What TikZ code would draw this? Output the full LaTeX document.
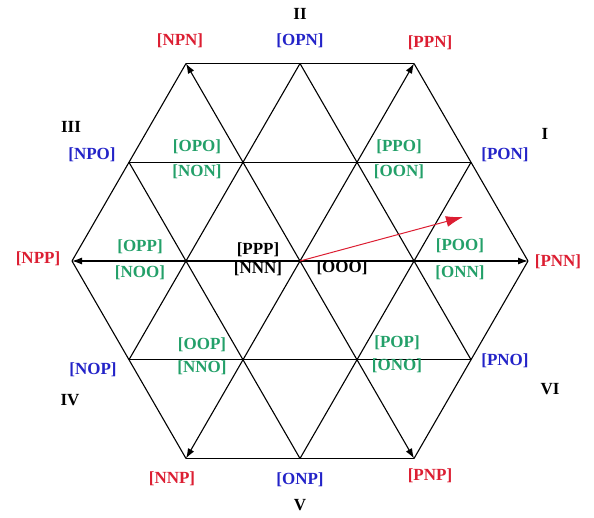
\documentclass[tikz,border=0pt]{standalone}
\usepackage{fontspec}
\setmainfont{Liberation Serif}
\usetikzlibrary{arrows.meta}
\definecolor{vred}{RGB}{220,30,50}
\definecolor{vblue}{RGB}{35,35,200}
\definecolor{vgreen}{RGB}{35,160,105}
\begin{document}
\begin{tikzpicture}[x=1pt,y=-1pt,
  gridline/.style={line width=1.1pt, black},
  vec/.style={gridline, -{Latex[length=10pt,width=7pt]}},
  redvec/.style={line width=1pt, vred, -{Latex[length=17pt,width=11pt]}},
  lab/.style={font=\fontsize{17}{19}\selectfont\bfseries, inner sep=0pt},
  rlab/.style={lab, text=vred},
  blab/.style={lab, text=vblue},
  glab/.style={lab, text=vgreen},
  klab/.style={lab, text=black}]
\useasboundingbox (0,0) rectangle (594,517);
% grid points
\coordinate (C) at (300,261);
\coordinate (A0) at (528,261);
\coordinate (A60) at (414,63.5);
\coordinate (A120) at (186,63.5);
\coordinate (A180) at (72,261);
\coordinate (A240) at (186,458.5);
\coordinate (A300) at (414,458.5);
\coordinate (M30) at (471,162.3);
\coordinate (M90) at (300,63.5);
\coordinate (M150) at (129,162.3);
\coordinate (M210) at (129,359.7);
\coordinate (M270) at (300,458.5);
\coordinate (M330) at (471,359.7);
\coordinate (R) at (463,217);
% grid lines
\draw[gridline] (A120) -- (A60);
\draw[gridline] (M150) -- (M30);
\draw[gridline] (M210) -- (M330);
\draw[gridline] (A240) -- (A300);
\draw[gridline] (A180) -- (A120);
\draw[gridline] (M210) -- (M90);
\draw[gridline] (M270) -- (M30);
\draw[gridline] (A300) -- (A0);
\draw[gridline] (A180) -- (A240);
\draw[gridline] (M150) -- (M270);
\draw[gridline] (M90) -- (M330);
\draw[gridline] (A60) -- (A0);
% vectors
\draw[vec] (C) -- (A0);
\draw[vec] (C) -- (A60);
\draw[vec] (C) -- (A120);
\draw[vec] (C) -- (A180);
\draw[vec] (C) -- (A240);
\draw[vec] (C) -- (A300);
\draw[redvec] (C) -- (R);
% sector labels
\node[klab] (sII) at (300,14) {II};
\node[klab] (sI) at (545,134) {I};
\node[klab] (sIII) at (71,127) {III};
\node[klab] (sIV) at (70,400) {IV};
\node[klab] (sV) at (300,505) {V};
\node[klab] (sVI) at (550,389) {VI};
% large vectors
\node[rlab] (lNPN) at (180,41) {[NPN]};
\node[rlab] (lPPN) at (430,43) {[PPN]};
\node[rlab] (lNPP) at (38,259) {[NPP]};
\node[rlab] (lPNN) at (558,262) {[PNN]};
\node[rlab] (lNNP) at (172,479) {[NNP]};
\node[rlab] (lPNP) at (430,476) {[PNP]};
% medium vectors
\node[blab] (lOPN) at (300,41) {[OPN]};
\node[blab] (lPON) at (505,155) {[PON]};
\node[blab] (lNPO) at (92,155) {[NPO]};
\node[blab] (lNOP) at (93,370) {[NOP]};
\node[blab] (lONP) at (300,480) {[ONP]};
\node[blab] (lPNO) at (505,361) {[PNO]};
% small vectors
\node[glab] (lOPO) at (197,147) {[OPO]};
\node[glab] (lNON) at (197,172) {[NON]};
\node[glab] (lPPO) at (399,147) {[PPO]};
\node[glab] (lOON) at (399,172) {[OON]};
\node[glab] (lOPP) at (140,247) {[OPP]};
\node[glab] (lNOO) at (140,273) {[NOO]};
\node[glab] (lPOO) at (460,246) {[POO]};
\node[glab] (lONN) at (460,273) {[ONN]};
\node[glab] (lOOP) at (202,345) {[OOP]};
\node[glab] (lNNO) at (202,368) {[NNO]};
\node[glab] (lPOP) at (397,343) {[POP]};
\node[glab] (lONO) at (397,366) {[ONO]};
% zero vectors
\node[klab] (lPPP) at (258,250) {[PPP]};
\node[klab] (lNNN) at (258,269) {[NNN]};
\node[klab] (lOOO) at (342,268) {[OOO]};
\end{tikzpicture}
\end{document}
